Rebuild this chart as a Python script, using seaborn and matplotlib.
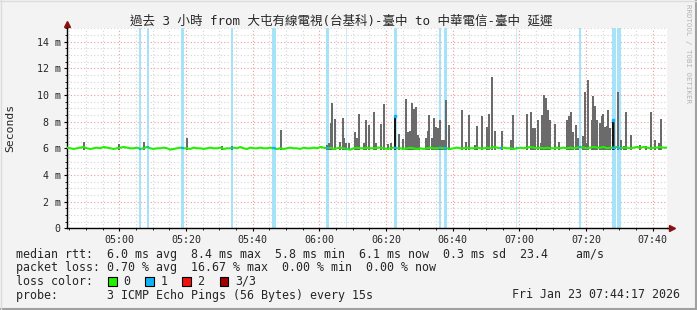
import numpy as np
import pandas as pd
import matplotlib
matplotlib.use('Agg')
import matplotlib.pyplot as plt
import matplotlib.dates as mdates
from matplotlib.patches import Rectangle
from matplotlib.lines import Line2D
from matplotlib.ticker import FixedLocator, MultipleLocator
import seaborn as sns

# ---------------- data ----------------
DAY = '2026-01-23 '
title = '過去 3 小時 from 大屯有線電視(台基科)-臺中 to 中華電信-臺中 延遲'
window_start = '04:44:17'
window_end = '07:44:17'

# median rtt (ms), one value per minute from 04:44:17
median_rtt = [
    6.05, 6.0, 5.95, 6.0, 6.05, 6.1, 6.0, 5.95, 6.0, 6.05, 6.0, 6.1, 6.05, 6.0, 5.95, 6.0, 6.05, 6.1, 6.05, 6.0,
    6.0, 6.05, 5.95, 6.0, 6.1, 6.0, 5.95, 6.0, 6.0, 6.05, 6.0, 5.9, 5.95, 6.0, 6.05, 6.0, 6.0, 5.95, 6.05, 6.0,
    6.0, 5.95, 6.0, 6.05, 6.0, 6.0, 6.05, 5.95, 6.0, 6.0, 6.05, 6.0, 6.1, 6.0, 5.95, 6.05, 6.0, 6.0, 6.05, 6.0,
    6.0, 6.05, 6.0, 5.95, 6.0, 5.95, 6.0, 6.05, 6.0, 6.0, 5.95, 6.05, 6.0, 6.0, 6.05, 6.0, 6.1, 6.05, 6.0, 6.05,
    5.95, 6.0, 6.05, 6.0, 5.95, 5.9, 6.0, 6.05, 6.0, 6.0, 6.05, 6.0, 6.0, 6.05, 6.05, 6.0, 5.95, 6.0, 6.05, 6.0,
    6.0, 5.95, 6.0, 6.05, 6.0, 5.95, 6.0, 5.95, 6.0, 6.05, 6.0, 6.0, 6.05, 6.0, 6.0, 5.95, 6.0, 6.05, 6.0, 6.0,
    6.05, 6.0, 6.0, 6.05, 6.0, 6.0, 6.05, 6.0, 6.1, 6.05, 6.0, 6.05, 6.0, 6.0, 5.95, 6.0, 6.05, 6.0, 6.05, 6.1,
    6.05, 6.0, 6.05, 6.0, 6.05, 6.0, 6.0, 6.05, 6.0, 6.05, 6.0, 6.05, 6.0, 6.05, 6.1, 6.05, 6.0, 6.05, 6.1, 6.05,
    6.05, 6.1, 6.0, 6.05, 6.05, 6.1, 6.0, 6.05, 6.05, 6.0, 6.05, 6.1, 6.05, 6.1, 6.05, 6.0, 6.05, 6.05, 6.1, 6.05, 6.05,
]

# smoke (max rtt of the pings) spikes
smoke_times = [
    '04:49:24', '04:59:54', '05:07:30', '05:20:24', '05:30:48', '05:33:48', '05:48:36',
    '06:02:18', '06:03:00', '06:03:30', '06:03:54', '06:04:42', '06:06:12', '06:07:06', '06:07:30',
    '06:08:00', '06:09:00', '06:10:42', '06:11:24', '06:12:00', '06:13:24', '06:14:00', '06:15:00',
    '06:16:30', '06:17:06', '06:18:30', '06:19:30', '06:20:36', '06:21:30', '06:23:54', '06:25:06',
    '06:26:06', '06:26:36', '06:27:12', '06:27:54', '06:28:30', '06:29:06', '06:29:36', '06:30:00',
    '06:32:00', '06:32:36', '06:33:00', '06:33:54', '06:34:30', '06:35:06', '06:35:42', '06:36:18',
    '06:36:54', '06:37:30', '06:38:06', '06:39:00', '06:42:54', '06:44:06', '06:45:00', '06:46:42',
    '06:47:24', '06:48:54', '06:50:24', '06:51:00', '06:51:42', '06:52:48', '06:54:48', '06:57:30',
    '06:58:06', '07:02:24', '07:03:36', '07:04:06', '07:04:42', '07:05:36', '07:06:30', '07:06:48',
    '07:07:24', '07:08:00', '07:08:36', '07:09:12', '07:10:48', '07:11:54', '07:14:18', '07:14:54',
    '07:15:30', '07:16:06', '07:17:00', '07:17:42', '07:19:06', '07:19:42', '07:20:06', '07:20:36',
    '07:21:48', '07:22:06', '07:22:42', '07:23:18', '07:24:12', '07:24:48', '07:25:12', '07:25:42',
    '07:26:18', '07:26:36', '07:27:12', '07:28:30', '07:29:36', '07:30:30', '07:31:24', '07:32:00',
    '07:33:30', '07:36:12', '07:38:00', '07:39:30', '07:40:42', '07:41:54', '07:42:30',
]
smoke_max = [
    6.46, 6.3, 6.46, 6.8, 6.2, 6.2, 7.4,
    6.25, 6.4, 7.9, 9.4, 8.2, 6.5, 8.25, 6.75,
    6.4, 6.4, 7.2, 6.75, 8.55, 6.4, 8.1, 7.75,
    8.7, 6.4, 7.8, 9.35, 6.3, 6.4, 7.1, 6.7,
    9.7, 7.25, 7.3, 9.4, 8.95, 9.1, 7.0, 6.75,
    6.8, 7.3, 8.5, 6.75, 8.25, 7.6, 7.5, 8.1,
    6.6, 6.6, 9.6, 7.75, 8.9, 6.5, 8.5, 6.25,
    7.7, 8.4, 7.6, 8.6, 11.35, 7.3, 7.3, 6.6,
    8.5, 8.6, 8.7, 7.5, 7.5, 8.1, 6.4, 8.5,
    10.0, 9.75, 8.9, 8.1, 7.8, 6.5, 8.1, 8.45,
    8.75, 7.25, 7.75, 6.75, 6.9, 10.2, 6.4, 11.1,
    8.1, 9.9, 9.2, 8.1, 7.9, 8.4, 8.6, 7.6,
    7.65, 8.9, 7.5, 8.15, 10.25, 6.6, 6.2, 8.75,
    7.0, 6.25, 6.2, 8.75, 6.6, 6.4, 8.2,
]
smoke_min = 5.9

# median jumps during loss (drawn dark)
dark_times = ['06:22:42', '07:28:06']
dark_max = [8.4, 8.1]

# loss events (centre time, duration in minutes)
loss_times = ['05:06:11', '05:08:35', '05:18:54', '05:33:48', '05:46:24', '06:02:26', '06:08:08',
              '06:22:50', '06:36:11', '06:37:50', '06:54:29', '06:59:08', '07:18:11', '07:28:23',
              '07:29:53']
loss_minutes = [0.6, 0.6, 1.0, 0.6, 1.2, 1.0, 0.3, 1.0, 0.6, 1.0, 0.3, 0.3, 0.6, 1.2, 1.2]

y_ticks = [0, 2, 4, 6, 8, 10, 12, 14]
y_tick_labels = ['0', '2 m', '4 m', '6 m', '8 m', '10 m', '12 m', '14 m']

line_rtt = 'median rtt:  6.0 ms avg  8.4 ms max  5.8 ms min  6.1 ms now  0.3 ms sd  23.4    am/s'
line_loss = 'packet loss: 0.70 % avg  16.67 % max  0.00 % min  0.00 % now'
line_color = 'loss color:'
loss_color_labels = ['0', '1', '2', '3/3']
loss_color_values = ['#22f000', '#10b4f4', '#f01010', '#a00000']
line_probe = 'probe:       3 ICMP Echo Pings (56 Bytes) every 15s'
stamp = 'Fri Jan 23 07:44:17 2026'

# ---------------- style ----------------
sns.set_style('white')
MONO = ['DejaVu Sans Mono', 'Noto Sans CJK TC']
plt.rcParams['font.family'] = MONO

W, H = 697, 310
fig = plt.figure(figsize=(W / 100, H / 100), dpi=100, facecolor='#f3f3f3')
ax = fig.add_axes([67 / W, (H - 228.3) / H, 600 / W, 200 / H])
ax.set_facecolor('white')

t0 = pd.Timestamp(DAY + window_start)
t1 = pd.Timestamp(DAY + window_end)
times = pd.date_range(t0, periods=len(median_rtt), freq='1min')
df = pd.DataFrame({'time': times, 'median': median_rtt})

# grid
ax.xaxis.set_major_locator(mdates.MinuteLocator(byminute=[0, 20, 40]))
ax.xaxis.set_minor_locator(mdates.MinuteLocator(byminute=range(0, 60, 5)))
ax.xaxis.set_major_formatter(mdates.DateFormatter('%H:%M'))
ax.yaxis.set_major_locator(FixedLocator(y_ticks))
ax.yaxis.set_minor_locator(MultipleLocator(0.5))
ax.set_yticklabels(y_tick_labels)
ax.grid(which='minor', color='#d4d4d4', ls=(0, (1, 2)), lw=0.8, zorder=0)
ax.grid(which='major', color='#f09a9a', ls=(0, (1, 2)), lw=0.8, zorder=0)
ax.set_axisbelow(True)

# loss bands
tnum = mdates.date2num(times)
for t, w in zip(loss_times, loss_minutes):
    c = mdates.date2num(pd.Timestamp(DAY + t))
    hw = w / 1440 / 2
    ax.axvspan(c - hw, c + hw, color='#a6e2f8', lw=0, zorder=1, alpha=0.6 if w < 0.5 else 1.0)

# smoke
st = pd.to_datetime([DAY + s for s in smoke_times])
ax.bar(st, np.array(smoke_max) - smoke_min, bottom=smoke_min, width=38 / 86400,
       color='#6b6b6b', lw=0, zorder=2)
dt = pd.to_datetime([DAY + s for s in dark_times])
ax.bar(dt, np.array(dark_max) - smoke_min, bottom=smoke_min, width=20 / 86400,
       color='#151515', lw=0, zorder=2)

# median line
sns.lineplot(data=df, x='time', y='median', ax=ax, color='#22f000', lw=1.5, zorder=3)
for t, w in zip(loss_times, loss_minutes):
    c = mdates.date2num(pd.Timestamp(DAY + t))
    hw = max(w, 0.5) / 1440 / 2
    y = np.interp(c, tnum, median_rtt)
    ax.hlines(y, c - hw, c + hw, color='#10b4f4', lw=1.6, zorder=4)
for t, v in zip(dark_times, dark_max):
    c = mdates.date2num(pd.Timestamp(DAY + t))
    ax.plot([c], [v], marker='s', ms=2, color='#10b4f4', zorder=5)

ax.set_xlim(t0, t1)
ax.set_ylim(0, 15)
ax.set_xlabel('')
ax.set_ylabel('')

for s in ['top', 'right']:
    ax.spines[s].set_visible(False)
for s in ['left', 'bottom']:
    ax.spines[s].set_color('black')
    ax.spines[s].set_linewidth(1.0)
ax.tick_params(axis='both', which='major', labelsize=7.2, length=2.5, width=0.8,
               color='black', pad=2, direction='out', left=True, bottom=True)
ax.tick_params(axis='both', which='minor', length=1.5, width=0.6, color='black',
               left=True, bottom=True)
for lab in ax.get_xticklabels() + ax.get_yticklabels():
    lab.set_family(MONO)

# axis arrows
ax.plot([0, 0], [1.0, 1.015], transform=ax.transAxes, color='black', lw=1, clip_on=False)
ax.plot([1.0, 1.006], [0, 0], transform=ax.transAxes, color='black', lw=1, clip_on=False)
ax.plot([0], [1.022], marker='^', ms=4.5, color='#8a1010', transform=ax.transAxes, clip_on=False)
ax.plot([1.008], [0], marker='>', ms=4.5, color='#8a1010', transform=ax.transAxes, clip_on=False)

def fx(px):
    return px / W

def fy(py):
    return (H - py) / H

fig.text(fx(341), fy(21), title, ha='center', va='center', fontsize=9, family=MONO)
fig.text(fx(10), fy(128), 'Seconds', rotation=90, ha='center', va='center', fontsize=8.2, family=MONO)
fig.text(fx(688), fy(4), 'RRDTOOL / TOBI OETIKER', rotation=270, ha='center', va='top',
         fontsize=5.3, color='#b4b4b4', family=MONO)

fs = 8.4
fig.text(fx(16), fy(254.5), line_rtt, ha='left', va='center', fontsize=fs, family=MONO)
fig.text(fx(16), fy(268), line_loss, ha='left', va='center', fontsize=fs, family=MONO)
fig.text(fx(16), fy(281.5), line_color, ha='left', va='center', fontsize=fs, family=MONO)
fig.text(fx(16), fy(295), line_probe, ha='left', va='center', fontsize=fs, family=MONO)
fig.text(fx(680), fy(295), stamp, ha='right', va='center', fontsize=fs, family=MONO)

box_x = [108, 145, 182, 219.5]
for bx, col, lab in zip(box_x, loss_color_values, loss_color_labels):
    fig.add_artist(Rectangle((fx(bx), fy(286)), 8.5 / W, 9 / H, transform=fig.transFigure,
                             facecolor=col, edgecolor='black', lw=0.8))
    fig.text(fx(bx + 15.5), fy(281.5), lab, ha='left', va='center', fontsize=fs, family=MONO)

# frame
fig.add_artist(Line2D([0, 1], [0.003, 0.003], transform=fig.transFigure, color='#a0a0a0', lw=1.5))
fig.add_artist(Line2D([0.998, 0.998], [0, 1], transform=fig.transFigure, color='#a0a0a0', lw=1.5))
fig.add_artist(Line2D([0, 1], [0.998, 0.998], transform=fig.transFigure, color='#dcdcdc', lw=1.0))
fig.add_artist(Line2D([0.001, 0.001], [0, 1], transform=fig.transFigure, color='#dcdcdc', lw=1.0))

fig.savefig('out.png', dpi=100, facecolor=fig.get_facecolor())
